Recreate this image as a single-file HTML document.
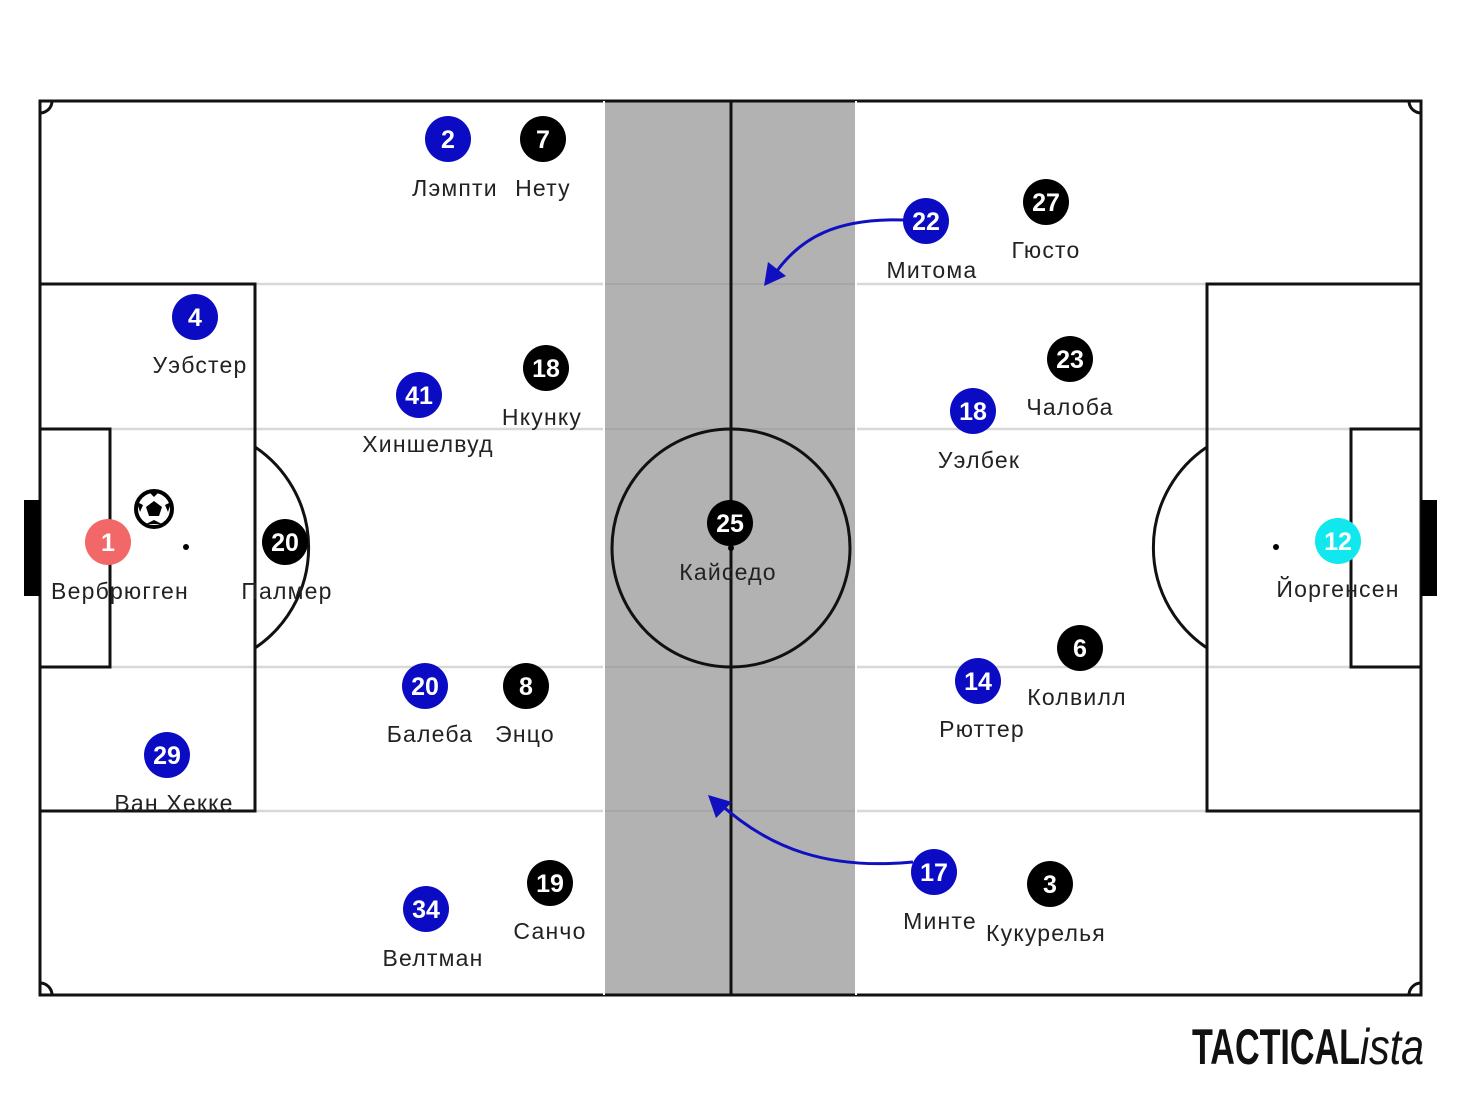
<!DOCTYPE html>
<html><head><meta charset="utf-8"><style>body{margin:0;background:#fff}svg{display:block}
.l{font-family:"Liberation Sans","DejaVu Sans",sans-serif;font-size:23px;letter-spacing:1.2px;fill:#222;text-anchor:middle}
.n{font-family:"Liberation Sans",sans-serif;font-size:25px;font-weight:bold;fill:#fff;text-anchor:middle}
</style></head><body>
<svg width="1460" height="1095" viewBox="0 0 1460 1095" xmlns="http://www.w3.org/2000/svg">
<g stroke="#d8d8d8" stroke-width="2.5">
<line x1="40" y1="284" x2="1421" y2="284"/><line x1="40" y1="429" x2="1421" y2="429"/>
<line x1="40" y1="667" x2="1421" y2="667"/><line x1="40" y1="811" x2="1421" y2="811"/>
</g>
<rect x="604" y="101" width="252" height="894" fill="#b2b2b2"/>
<g stroke="#a6a6a6" stroke-width="2">
<line x1="604" y1="284" x2="856" y2="284"/><line x1="604" y1="429" x2="856" y2="429"/>
<line x1="604" y1="667" x2="856" y2="667"/><line x1="604" y1="811" x2="856" y2="811"/>
</g>
<g fill="none" stroke="#111" stroke-width="3">
<rect x="40" y="101" width="1381" height="894"/>
<line x1="731" y1="101" x2="731" y2="995"/>
<circle cx="731" cy="548" r="119"/>
<rect x="40" y="284" width="215" height="527"/>
<rect x="40" y="429" width="70" height="238"/>
<rect x="1207" y="284" width="214" height="527"/>
<rect x="1351" y="429" width="70" height="238"/>
<path d="M255 447 A121 121 0 0 1 255 648"/>
<path d="M1207 447 A121 121 0 0 0 1207 648"/>
<path d="M40 113 A12 12 0 0 0 52 101"/><path d="M1409 101 A12 12 0 0 0 1421 113"/>
<path d="M40 983 A12 12 0 0 1 52 995"/><path d="M1409 995 A12 12 0 0 1 1421 983"/>
</g>
<line x1="604" y1="101" x2="604" y2="995" stroke="#fff" stroke-width="2"/>
<line x1="856" y1="101" x2="856" y2="995" stroke="#fff" stroke-width="2"/>
<rect x="24" y="500" width="16" height="96" fill="#000"/>
<rect x="1421" y="500" width="16" height="96" fill="#000"/>
<circle cx="186" cy="547" r="3" fill="#000"/><circle cx="1276" cy="547" r="3" fill="#000"/>
<circle cx="731" cy="548" r="3" fill="#000"/>
<g fill="none" stroke="#1010c0" stroke-width="3">
<path d="M905 220 C840 218 800 235 772 278"/>
<path d="M913 862 C830 870 770 850 718 802"/>
</g>
<polygon points="764,286 768,262 786,276" fill="#1010c0"/>
<polygon points="708,795 732,802 716,818" fill="#1010c0"/>
<circle cx="154" cy="509" r="18" fill="#fff" stroke="#000" stroke-width="4"/>
<polygon points="154,501 162,507 159,516 149,516 146,507" fill="#000"/>
<polygon points="149,492 159,492 154,497" fill="#000"/>
<polygon points="137,502 140,512 143,505" fill="#000"/>
<polygon points="171,502 168,512 165,505" fill="#000"/>
<polygon points="146,524 162,524 154,520" fill="#000"/>
<g>
<circle cx="448" cy="139" r="23" fill="#0b0bc4"/><text class="n" x="448" y="148">2</text>
<circle cx="543" cy="139" r="23" fill="#000"/><text class="n" x="543" y="148">7</text>
<circle cx="926" cy="221" r="23" fill="#0b0bc4"/><text class="n" x="926" y="230">22</text>
<circle cx="1046" cy="202" r="23" fill="#000"/><text class="n" x="1046" y="211">27</text>
<circle cx="195" cy="317" r="23" fill="#0b0bc4"/><text class="n" x="195" y="326">4</text>
<circle cx="419" cy="395" r="23" fill="#0b0bc4"/><text class="n" x="419" y="404">41</text>
<circle cx="546" cy="368" r="23" fill="#000"/><text class="n" x="546" y="377">18</text>
<circle cx="1070" cy="359" r="23" fill="#000"/><text class="n" x="1070" y="368">23</text>
<circle cx="973" cy="411" r="23" fill="#0b0bc4"/><text class="n" x="973" y="420">18</text>
<circle cx="108" cy="542" r="23" fill="#f26767"/><text class="n" x="108" y="551">1</text>
<circle cx="285" cy="542" r="23" fill="#000"/><text class="n" x="285" y="551">20</text>
<circle cx="730" cy="523" r="23" fill="#000"/><text class="n" x="730" y="532">25</text>
<circle cx="1338" cy="541" r="23" fill="#10e8ee"/><text class="n" x="1338" y="550">12</text>
<circle cx="1080" cy="648" r="23" fill="#000"/><text class="n" x="1080" y="657">6</text>
<circle cx="978" cy="681" r="23" fill="#0b0bc4"/><text class="n" x="978" y="690">14</text>
<circle cx="425" cy="686" r="23" fill="#0b0bc4"/><text class="n" x="425" y="695">20</text>
<circle cx="526" cy="686" r="23" fill="#000"/><text class="n" x="526" y="695">8</text>
<circle cx="167" cy="755" r="23" fill="#0b0bc4"/><text class="n" x="167" y="764">29</text>
<circle cx="550" cy="883" r="23" fill="#000"/><text class="n" x="550" y="892">19</text>
<circle cx="934" cy="872" r="23" fill="#0b0bc4"/><text class="n" x="934" y="881">17</text>
<circle cx="1050" cy="884" r="23" fill="#000"/><text class="n" x="1050" y="893">3</text>
<circle cx="426" cy="909" r="23" fill="#0b0bc4"/><text class="n" x="426" y="918">34</text>
</g>
<g>
<text class="l" x="455" y="196">Лэмпти</text><text class="l" x="543" y="196">Нету</text>
<text class="l" x="932" y="278">Митома</text><text class="l" x="1046" y="258">Гюсто</text>
<text class="l" x="200" y="373">Уэбстер</text><text class="l" x="428" y="452">Хиншелвуд</text>
<text class="l" x="542" y="425">Нкунку</text><text class="l" x="1070" y="415">Чалоба</text>
<text class="l" x="979" y="468">Уэлбек</text><text class="l" x="120" y="599">Вербрюгген</text>
<text class="l" x="287" y="599">Палмер</text><text class="l" x="728" y="580">Кайседо</text>
<text class="l" x="1338" y="597">Йоргенсен</text><text class="l" x="1077" y="705">Колвилл</text>
<text class="l" x="982" y="737">Рюттер</text><text class="l" x="430" y="742">Балеба</text>
<text class="l" x="525" y="742">Энцо</text><text class="l" x="174" y="811">Ван Хекке</text>
<text class="l" x="550" y="939">Санчо</text><text class="l" x="940" y="929">Минте</text>
<text class="l" x="1046" y="941">Кукурелья</text><text class="l" x="433" y="966">Велтман</text>
</g>
<text x="1192" y="1064" font-family="Liberation Sans, sans-serif" font-size="50" font-weight="bold" fill="#111" textLength="168" lengthAdjust="spacingAndGlyphs">TACTICAL</text>
<text x="1360" y="1064" font-family="Liberation Sans, sans-serif" font-size="50" font-style="italic" fill="#111" textLength="64" lengthAdjust="spacingAndGlyphs">ista</text>
</svg>
</body></html>
